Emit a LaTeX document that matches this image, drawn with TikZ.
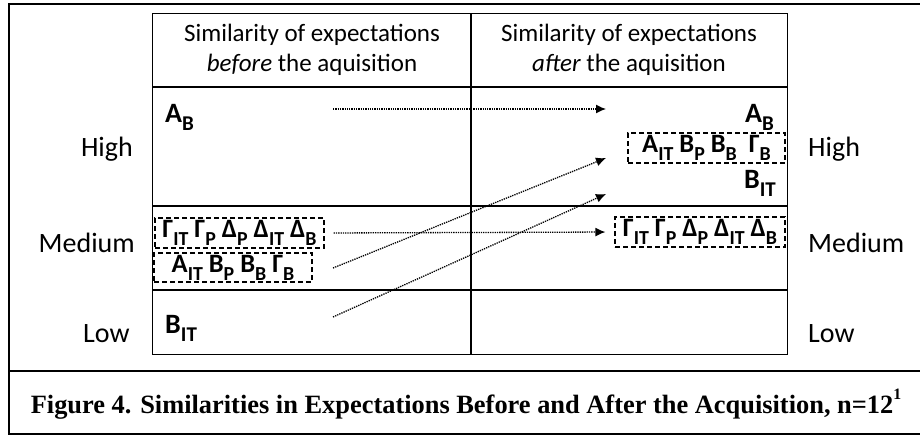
\documentclass[tikz,border=0pt]{standalone}
\usepackage{fontspec}
\setsansfont{Carlito}
\newfontfamily\capfont{Liberation Serif}
\usetikzlibrary{arrows.meta}
\newcommand{\ix}[1]{\raisebox{-.3em}{\scalebox{.75}{#1}}}
\tikzset{
  font=\sffamily,
  frame/.style={line width=2.4pt},
  border/.style={line width=1pt},
  rule/.style={line width=1.7pt},
  head/.style={align=center,inner sep=0pt,font=\sffamily\fontsize{25}{30}\selectfont},
  level/.style={inner sep=0pt,font=\sffamily\fontsize{28}{32}\selectfont},
  item/.style={inner sep=0pt,font=\sffamily\bfseries\fontsize{28}{30}\selectfont},
  group/.style={draw,dash pattern=on 5pt off 3pt,line width=1.2pt,inner sep=0pt,
    font=\sffamily\bfseries\fontsize{26.5}{28}\selectfont},
  move/.style={densely dotted,line width=1.3pt,-{Latex[length=10pt,width=9pt]}},
  caption/.style={inner sep=0pt,font=\capfont\bfseries\fontsize{26.4}{30}\selectfont},
}
\begin{document}
\begin{tikzpicture}[x=1pt,y=-1pt]

\useasboundingbox (0,0) rectangle (920,436);

% frame and caption
\draw[frame] (920,4) -- (9,4) -- (9,434) -- (920,434);
\draw[frame] (9,371) -- (920,371);
\node[caption] (cap) at (466,404)
  {Figure 4. Similarities in Expectations Before and After the Acquisition, n=12\raisebox{.55em}{\scalebox{.6}{1}}};

% table
\draw[border] (152.5,13.5) rectangle (787,354);
\draw[rule] (152.5,87) -- (787,87);
\draw[rule] (152.5,206) -- (787,206);
\draw[rule] (152.5,290) -- (787,290);
\draw[rule] (471,13.5) -- (471,354);

\node[head] (hBefore) at (312,50) {Similarity of expectations\\\textit{before} the aquisition};
\node[head] (hAfter) at (629,50) {Similarity of expectations\\\textit{after} the aquisition};

% levels
\node[level,anchor=base east] (highL) at (133,156) {High};
\node[level,anchor=base east] (medL) at (135,252) {Medium};
\node[level,anchor=base west] (lowL) at (83,342) {Low};
\node[level,anchor=base west] (highR) at (808,156) {High};
\node[level,anchor=base west] (medR) at (808,252) {Medium};
\node[level,anchor=base west] (lowR) at (808,342) {Low};

% before
\node[item,anchor=base west] (abL) at (165,122) {A\ix{B}};
\node[group,minimum width=169,minimum height=30] (gdL) at (239.5,233)
  {Γ\ix{IT} Γ\ix{P} Δ\ix{P}\ Δ\ix{IT} Δ\ix{B}};
\node[group,minimum width=158,minimum height=29] (abgL) at (233,267.5)
  {A\ix{IT} B\ix{P}\ B\ix{B}\ Γ\ix{B}};
\node[item,anchor=base west] (bitL) at (165,333) {B\ix{IT}};

% after
\node[item,anchor=base east] (abR) at (774,122) {A\ix{B}};
\node[group,minimum width=157,minimum height=30] (abgR) at (706.5,148)
  {A\ix{IT} B\ix{P}\ B\ix{B}\ \ Γ\ix{B}};
\node[item,anchor=base east] (bitR) at (776,188) {B\ix{IT}};
\node[group,minimum width=170,minimum height=30] (gdR) at (700,232)
  {Γ\ix{IT} Γ\ix{P} Δ\ix{P} Δ\ix{IT} Δ\ix{B}};

% moves
\coordinate (abFrom) at (333,109);
\coordinate (abTo) at (606,109);
\coordinate (abgFrom) at (333,268);
\coordinate (abgTo) at (606,158);
\coordinate (bitFrom) at (333,317);
\coordinate (bitTo) at (606,194);

\draw[move] (abFrom) -- (abTo);
\draw[move,shorten <=9pt,shorten >=9pt] (gdL.east) -- (gdR.west);
\draw[move] (abgFrom) -- (abgTo);
\draw[move] (bitFrom) -- (bitTo);

\end{tikzpicture}
\end{document}
